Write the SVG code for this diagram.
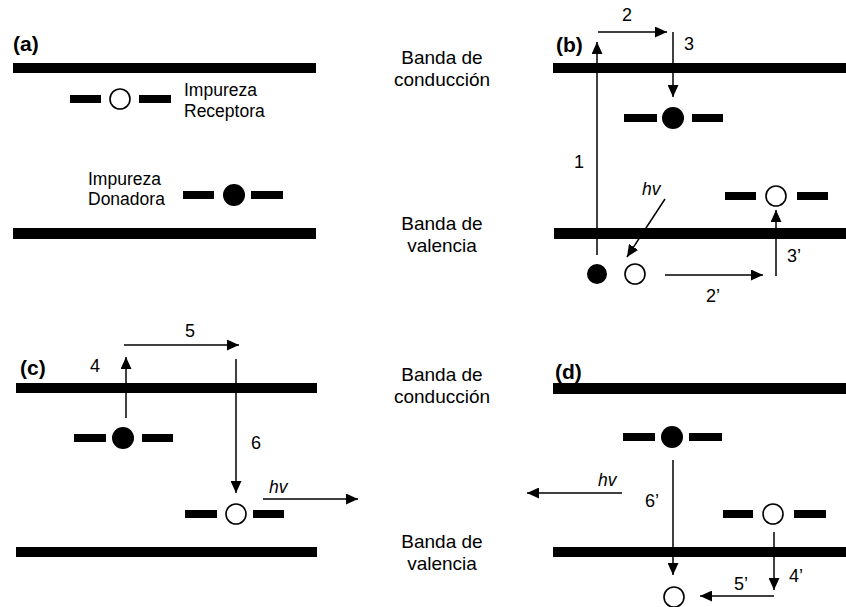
<svg xmlns="http://www.w3.org/2000/svg" width="846" height="607" viewBox="0 0 846 607">
<style>
.bar{fill:#000}
.dash{fill:#000}
.full{fill:#000}
.empty{fill:#fff;stroke:#000;stroke-width:1.6}
.ln{stroke:#000;stroke-width:1.5;fill:none;marker-end:url(#ah)}
text{font-family:"Liberation Sans",Arial,sans-serif;fill:#000}
.lbl{font-size:17.5px}
.mid{font-size:19px;text-anchor:middle}
.num{font-size:18px;text-anchor:middle}
.pan{font-size:21px;font-weight:bold}
.hv{font-size:17.5px;font-style:italic}
</style>
<defs>
<marker id="ah" markerUnits="userSpaceOnUse" markerWidth="12" markerHeight="11" refX="12" refY="5.5" orient="auto">
<path d="M0,0 L12,5.5 L0,11 z" fill="#000"/>
</marker>
</defs>
<rect width="846" height="607" fill="#fff"/>

<!-- middle labels -->
<g id="labels-mid">
<text class="mid" x="442" y="64">Banda de</text>
<text class="mid" x="442" y="86">conducción</text>
<text class="mid" x="442" y="230">Banda de</text>
<text class="mid" x="442" y="252">valencia</text>
<text class="mid" x="442" y="381">Banda de</text>
<text class="mid" x="442" y="403">conducción</text>
<text class="mid" x="442" y="548">Banda de</text>
<text class="mid" x="442" y="570">valencia</text>
</g>

<!-- panel a -->
<g id="panel-a">
<text class="pan" x="13" y="51">(a)</text>
<rect id="a-cb" class="bar" x="13" y="63" width="303" height="10"/>
<rect id="a-vb" class="bar" x="13" y="228" width="303" height="11"/>
<g id="a-acceptor">
<rect class="dash" x="70" y="95" width="31" height="8"/>
<circle class="empty" cx="120" cy="99" r="10"/>
<rect class="dash" x="139" y="95" width="32" height="8"/>
<text class="lbl" x="184" y="96">Impureza</text>
<text class="lbl" x="184" y="117">Receptora</text>
</g>
<g id="a-donor">
<text class="lbl" x="88" y="185">Impureza</text>
<text class="lbl" x="88" y="205">Donadora</text>
<rect class="dash" x="183" y="191" width="31" height="8"/>
<circle class="full" cx="234" cy="195" r="11"/>
<rect class="dash" x="251" y="191" width="32" height="8"/>
</g>
</g>

<!-- panel b -->
<g id="panel-b">
<text class="pan" x="556" y="52">(b)</text>
<rect id="b-cb" class="bar" x="553" y="63" width="293" height="10"/>
<rect id="b-vb" class="bar" x="554" y="228" width="292" height="11"/>
<g id="b-donor">
<rect class="dash" x="624" y="114" width="33" height="8"/>
<circle class="full" cx="673" cy="118" r="11"/>
<rect class="dash" x="692" y="114" width="31" height="8"/>
</g>
<g id="b-acceptor">
<rect class="dash" x="725" y="192" width="31" height="8"/>
<circle class="empty" cx="776" cy="196" r="10"/>
<rect class="dash" x="797" y="192" width="31" height="8"/>
</g>
<circle id="b-electron" class="full" cx="597" cy="274" r="10"/>
<circle id="b-hole" class="empty" cx="635" cy="274" r="10"/>
</g>

<!-- panel c -->
<g id="panel-c">
<text class="pan" x="20" y="375">(c)</text>
<rect id="c-cb" class="bar" x="16" y="383" width="301" height="10"/>
<rect id="c-vb" class="bar" x="16" y="547" width="301" height="10"/>
<g id="c-donor">
<rect class="dash" x="74" y="434" width="32" height="8"/>
<circle class="full" cx="123" cy="438" r="11"/>
<rect class="dash" x="142" y="434" width="31" height="8"/>
</g>
<g id="c-acceptor">
<rect class="dash" x="185" y="510" width="32" height="8"/>
<circle class="empty" cx="236" cy="514" r="10"/>
<rect class="dash" x="253" y="510" width="31" height="8"/>
</g>
</g>

<!-- panel d -->
<g id="panel-d">
<text class="pan" x="555" y="379">(d)</text>
<rect id="d-cb" class="bar" x="553" y="383" width="293" height="11"/>
<rect id="d-vb" class="bar" x="553" y="547" width="293" height="10"/>
<g id="d-donor">
<rect class="dash" x="623" y="433" width="32" height="8"/>
<circle class="full" cx="672" cy="437" r="11"/>
<rect class="dash" x="689" y="433" width="33" height="8"/>
</g>
<g id="d-acceptor">
<rect class="dash" x="723" y="510" width="30" height="8"/>
<circle class="empty" cx="773" cy="514" r="10"/>
<rect class="dash" x="794" y="510" width="32" height="8"/>
</g>
<circle id="d-hole" class="empty" cx="674" cy="597" r="10"/>
</g>

<!-- connectors -->
<g id="connectors">
<line class="ln" x1="597" y1="255" x2="597" y2="42"/>
<line class="ln" x1="598" y1="32" x2="667" y2="32"/>
<line class="ln" x1="673" y1="32" x2="673" y2="97"/>
<line class="ln" x1="665" y1="199" x2="627" y2="257"/>
<line class="ln" x1="665" y1="275" x2="763" y2="275"/>
<line class="ln" x1="776" y1="276" x2="776" y2="210"/>

<line class="ln" x1="126" y1="418" x2="126" y2="357"/>
<line class="ln" x1="124" y1="345" x2="239" y2="345"/>
<line class="ln" x1="236" y1="359" x2="236" y2="493"/>
<line class="ln" x1="263" y1="499" x2="358" y2="499"/>

<line class="ln" x1="673" y1="460" x2="673" y2="575"/>
<line class="ln" x1="622" y1="493" x2="527" y2="493"/>
<line class="ln" x1="774" y1="532" x2="774" y2="590"/>
<line class="ln" x1="774" y1="596" x2="700" y2="596"/>
</g>

<!-- connector labels -->
<g id="connector-labels">
<text class="num" x="579" y="168">1</text>
<text class="num" x="627" y="21">2</text>
<text class="num" x="689" y="50">3</text>
<text class="hv" x="642" y="195">hv</text>
<text class="num" x="713" y="302">2’</text>
<text class="num" x="794" y="262">3’</text>

<text class="num" x="95" y="372">4</text>
<text class="num" x="190" y="337">5</text>
<text class="num" x="256" y="449">6</text>
<text class="hv" x="269" y="493">hv</text>

<text class="num" x="652" y="507">6’</text>
<text class="hv" x="598" y="486">hv</text>
<text class="num" x="796" y="582">4’</text>
<text class="num" x="741" y="590">5’</text>
</g>
</svg>
